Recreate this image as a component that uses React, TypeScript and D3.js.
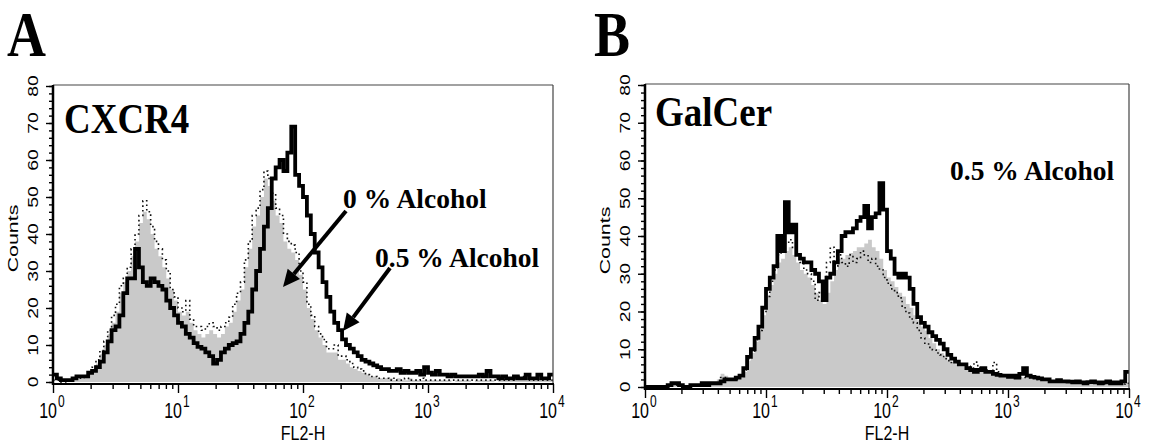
import React, { useEffect, useRef } from "react";
import * as d3 from "d3";

// histogram channels: 32 log bins per decade, 10^0 .. 10^4
const binsPerDecade = 32;
const decades = [0, 1, 2, 3, 4];
const countTicks = [0, 10, 20, 30, 40, 50, 60, 70, 80];

// CXCR4, 0 % alcohol (grey filled)
const cxcr4Fill = [
  0, 0, 0, 0, 0, 0.5, 1, 1, 1.5, 2.5,
  3.5, 5, 7.5, 10, 13, 16, 19, 24, 27, 30,
  34, 38, 43, 46, 44, 40, 36, 34, 31, 28,
  25, 22, 19, 18, 19, 16, 14, 13, 12, 13,
  14, 13, 12, 13, 15, 16, 19, 22, 25, 31,
  36, 42, 45, 50, 55, 53, 49, 45, 43, 38,
  36, 35, 33, 29, 25, 20, 17, 14, 12, 10,
  8, 8, 8, 6, 6, 5, 4, 3.5, 3, 2.5,
  2, 1.5, 1.5, 1, 1, 1, 1, 0.5, 1, 0.5,
  0.5, 1, 0.5, 0.5, 0.5, 0.5, 0.5, 0.5, 0.5, 0.5,
  0.5, 0.5, 0, 0.5, 0.5, 0.5, 0.5, 0, 0.5, 0.5,
  0.5, 0.5, 0.5, 0, 0.5, 0.5, 0.5, 0.5, 0.5, 1,
  1, 0.5, 0.5, 0.5, 0.5, 0.5, 0.5, 0.5
];

// CXCR4, dotted overlay
const cxcr4Dotted = [
  0.5, 0.5, 0, 0, 0.5, 0.5, 1, 1, 1.5, 3,
  4, 6, 8.5, 11, 14, 18, 21, 26, 28, 31,
  36, 40, 45, 49, 46, 42, 38, 36, 33, 30,
  25, 23, 20, 19, 22, 17, 15, 15, 14, 15,
  16, 15, 14, 15, 16, 17.5, 21, 24, 27, 33,
  38, 45, 47, 52, 57, 55, 51, 47, 45, 40,
  38, 37, 35, 30, 27, 21, 18, 15, 13, 11.5,
  9, 9, 10, 7, 7, 6, 5, 4, 3.5, 3,
  2, 1.5, 1.5, 1, 1, 1, 0.5, 1, 0.5, 0.5,
  1, 0.5, 0.5, 0.5, 1, 0.5, 0.5, 0.5, 0.5, 0.5,
  0.5, 0.5, 0.5, 0.5, 0.5, 0.5, 0.5, 0.5, 0.5, 0.5,
  0.5, 0.5, 0.5, 0.5, 0.5, 0.5, 0.5, 0.5, 1, 1.5,
  1.5, 1, 0.5, 0.5, 0.5, 0.5, 0.5, 0.5
];

// CXCR4, 0.5 % alcohol (thick black)
const cxcr4Alcohol = [
  2, 1, 0.5, 0.5, 0.5, 1, 1.5, 1.5, 1.5, 2.5,
  3, 4, 5.5, 8, 11, 14, 15, 18, 24, 28,
  28, 36, 31, 27, 26, 28, 27, 26, 25, 22,
  20, 18, 16, 15, 13, 12, 10.5, 9.5, 9, 8,
  7, 5, 6, 8, 9, 10, 10.5, 11, 13, 16,
  19, 25, 30, 36, 42, 47, 55, 58, 60, 57,
  62, 69, 56, 53, 50, 45, 40, 35, 31, 27,
  23, 19, 16, 14, 11.5, 10, 9, 8, 7, 6,
  5.5, 5, 4.5, 4, 3.5, 3.5, 3, 3, 3.5, 2.5,
  3, 2.5, 2.5, 3, 2, 4, 2.5, 2, 3, 2,
  2, 1.5, 2, 1.5, 1.5, 1.5, 1.5, 1.5, 1.5, 2,
  1.5, 3, 1.5, 1.5, 1, 1.5, 1, 1, 1.5, 1,
  1, 2, 1, 1, 2, 1, 1, 2
];

// GalCer, grey filled
const galcerFill = [
  0, 0, 0, 0, 0, 0, 0.5, 1, 0.5, 0.5,
  0, 0.3, 0.5, 0.5, 0.5, 0.8, 0.8, 1, 1, 2,
  3.5, 3, 2, 2, 2, 2.5, 4, 7, 9, 12,
  15, 19, 24, 27, 30, 33, 34, 36, 37, 35,
  33, 31, 30, 29, 27, 25, 23, 22, 25, 28,
  31, 34, 34, 35, 35.5, 36, 37, 37, 38, 39,
  37, 36, 34, 31, 29, 28, 26.5, 25, 24, 22,
  21, 19, 17.7, 16, 15, 13, 11.6, 10, 9, 8,
  7, 6.5, 6, 5.5, 5.5, 5, 5, 4.5, 4.5, 4.5,
  4.5, 4, 3.5, 3.5, 3.5, 3, 3, 3, 3, 2.5,
  2.5, 2.5, 2.5, 2, 2, 2, 1.8, 1.5, 1.5, 1.5,
  1.5, 1.2, 1.2, 1.2, 1, 1, 1.2, 1, 1, 1,
  1, 0.8, 1, 0.8, 1, 1, 0.8, 1
];

// GalCer, dotted overlay
const galcerDotted = [
  0, 0, 0, 0, 0, 0, 0.5, 1, 0.5, 0.5,
  0, 0.3, 0.5, 0.5, 0.5, 0.8, 0.8, 1, 1, 1.5,
  2.5, 2.5, 2, 2, 2, 3, 4.5, 7.5, 9.5, 12.5,
  15, 20, 24, 28, 31, 35, 36, 38, 39, 37,
  35, 33, 31, 30, 28, 23, 25, 27, 33, 37,
  32, 35, 33, 32, 35, 33, 34, 36, 35, 33,
  34, 32, 31, 29, 27.5, 26, 25, 23.6, 21, 19.6,
  18, 17, 15, 13, 11.6, 10.5, 9.8, 9, 8.5, 7.5,
  7, 6.5, 6.5, 6, 5.5, 5.5, 5, 6.6, 5, 4.5,
  4.5, 4, 6.5, 4, 3.5, 3, 3, 3, 2.8, 2.5,
  2.5, 2.5, 2.3, 2, 2, 2, 1.8, 1.5, 1.5, 1.5,
  1.5, 1.2, 1.2, 1.2, 1, 1, 1.2, 1, 1, 1,
  1, 0.8, 1, 0.8, 1, 1, 0.8, 1
];

// GalCer, 0.5 % alcohol (thick black)
const galcerAlcohol = [
  0, 0, 0, 0, 0, 0, 0.5, 1, 1, 0.5,
  0, 0, 0.5, 0.5, 0.5, 1, 0.5, 1, 1, 1,
  1.5, 2, 2, 2, 2.5, 3, 5, 8, 10, 13,
  16, 21, 26, 29, 32, 40, 36, 49, 41, 43,
  35, 34, 33, 33, 31, 30, 28, 23, 29, 30,
  33, 36, 40, 41, 41, 42, 44, 45, 48, 42,
  45, 46, 54, 47, 36, 34, 30, 29, 30, 29,
  26, 22, 18.5, 17, 16, 14.5, 13.5, 12.5, 11.5, 10,
  8.5, 7.5, 6.7, 6, 6, 5, 4.5, 4, 4.5, 5,
  4, 4, 3.5, 3.2, 3, 3, 2.7, 3, 2.5, 3.5,
  5, 3, 2.7, 2.5, 2.3, 2, 2, 1.5, 1.5, 1.8,
  1.5, 1.5, 1.4, 1.2, 1.5, 1.2, 1, 1.3, 1.5, 1.2,
  1, 1.2, 1.5, 1, 1.2, 1, 1.5, 4
];

const panels = [
  {
    letter: "A", letterX: 7,
    left: 53, right: 553, top: 85, zeroY: 382, axisY: 384,
    title: "CXCR4", titleX: 64, titleY: 133,
    fill: cxcr4Fill, dotted: cxcr4Dotted, line: cxcr4Alcohol,
    labels: [
      { text: "0 % Alcohol", x: 343, y: 208 },
      { text: "0.5 % Alcohol", x: 375, y: 267 }
    ],
    arrows: [
      { x1: 346, y1: 211, x2: 283, y2: 287 },
      { x1: 390, y1: 268, x2: 343, y2: 331 }
    ]
  },
  {
    letter: "B", letterX: 594,
    left: 645, right: 1129, top: 84, zeroY: 387, axisY: 389,
    title: "GalCer", titleX: 655, titleY: 126,
    fill: galcerFill, dotted: galcerDotted, line: galcerAlcohol,
    labels: [{ text: "0.5 % Alcohol", x: 950, y: 180 }],
    arrows: []
  }
];

const sans = "'Liberation Sans', Arial, sans-serif";
const serif = "'Liberation Serif', 'Times New Roman', serif";
const stretch = 1.38;

function drawPanel(svg, p, idx) {
  const g = svg.append("g");
  const x = d3.scaleLog().domain([1, 1e4]).range([p.left, p.right]);
  const y = d3.scaleLinear().domain([0, 80]).range([p.zeroY, p.top + 1]);
  const n = p.fill.length;
  const edges = d3.range(n + 1).map(i => Math.pow(10, i / binsPerDecade));
  const steps = vals => vals.map((v, i) => [edges[i], v]).concat([[edges[n], vals[n - 1]]]);

  const clipId = "clip" + idx;
  g.append("clipPath").attr("id", clipId)
    .append("rect")
    .attr("x", p.left).attr("y", p.top)
    .attr("width", p.right - p.left).attr("height", p.axisY - p.top);

  const plot = g.append("g").attr("clip-path", "url(#" + clipId + ")");

  const area = d3.area()
    .x(d => x(d[0]))
    .y0(y(0))
    .y1(d => y(d[1]))
    .curve(d3.curveStepAfter);
  const line = d3.line()
    .x(d => x(d[0]))
    .y(d => y(d[1]))
    .curve(d3.curveStepAfter);

  plot.append("path").datum(steps(p.fill))
    .attr("d", area).attr("fill", "#c9c9c9");
  plot.append("path").datum(steps(p.dotted))
    .attr("d", line).attr("fill", "none")
    .attr("stroke", "#111").attr("stroke-width", 1.6)
    .attr("stroke-dasharray", "1.6,3");
  plot.append("path").datum(steps(p.line))
    .attr("d", line).attr("fill", "none")
    .attr("stroke", "#000").attr("stroke-width", 3.8)
    .attr("stroke-linejoin", "miter");

  // frame
  g.append("line").attr("x1", p.left).attr("x2", p.right)
    .attr("y1", p.top).attr("y2", p.top)
    .attr("stroke", "#444").attr("stroke-width", 1.2);
  g.append("line").attr("x1", p.right).attr("x2", p.right)
    .attr("y1", p.top).attr("y2", p.axisY)
    .attr("stroke", "#444").attr("stroke-width", 1.2);
  g.append("line").attr("x1", p.left).attr("x2", p.left)
    .attr("y1", p.top).attr("y2", p.axisY + 1)
    .attr("stroke", "#000").attr("stroke-width", 2.5);
  g.append("line").attr("x1", p.left - 1).attr("x2", p.right + 1)
    .attr("y1", p.axisY).attr("y2", p.axisY)
    .attr("stroke", "#000").attr("stroke-width", 2.2);

  // y ticks
  const minorY = d3.range(0, 81, 2);
  const yMinor = g.append("g").attr("transform", "translate(" + p.left + ",0)")
    .call(d3.axisLeft(y).tickValues(minorY).tickSize(4).tickFormat(() => ""));
  const yMajor = g.append("g").attr("transform", "translate(" + p.left + ",0)")
    .call(d3.axisLeft(y).tickValues(countTicks).tickSize(7).tickFormat(() => ""));
  [yMinor, yMajor].forEach(a => {
    a.select(".domain").remove();
    a.selectAll("line").attr("stroke", "#000").attr("stroke-width", 1.4);
  });
  countTicks.forEach(t => {
    g.append("text")
      .attr("transform", "translate(" + (p.left - 15) + "," + y(t) + ") scale(1," + stretch + ") rotate(-90)")
      .attr("text-anchor", "middle")
      .attr("font-family", sans).attr("font-size", 14)
      .text(t);
  });
  g.append("text")
    .attr("transform", "translate(" + (p.left - 35) + "," + ((p.top + p.zeroY) / 2 + 5) + ") scale(1," + stretch + ") rotate(-90)")
    .attr("text-anchor", "middle")
    .attr("font-family", sans).attr("font-size", 15.5)
    .text("Counts");

  // x ticks
  const minorX = [];
  decades.slice(0, 4).forEach(d => {
    for (let k = 2; k <= 9; k++) minorX.push(k * Math.pow(10, d));
  });
  const xMinor = g.append("g").attr("transform", "translate(0," + p.axisY + ")")
    .call(d3.axisBottom(x).tickValues(minorX).tickSize(5).tickFormat(() => ""));
  const xMajor = g.append("g").attr("transform", "translate(0," + p.axisY + ")")
    .call(d3.axisBottom(x).tickValues(decades.map(d => Math.pow(10, d))).tickSize(9).tickFormat(() => ""));
  [xMinor, xMajor].forEach(a => {
    a.select(".domain").remove();
    a.selectAll("line").attr("stroke", "#000").attr("stroke-width", 1.4);
  });
  decades.forEach(d => {
    const xp = x(Math.pow(10, d));
    g.append("text")
      .attr("transform", "translate(" + (xp + 4) + ",418) scale(1," + stretch + ")")
      .attr("text-anchor", "end")
      .attr("font-family", sans).attr("font-size", 16)
      .text("10");
    g.append("text")
      .attr("transform", "translate(" + (xp + 5) + ",407) scale(1," + stretch + ")")
      .attr("font-family", sans).attr("font-size", 12)
      .text(d);
  });
  g.append("text")
    .attr("transform", "translate(" + x(100) + ",440) scale(1,1.3)")
    .attr("text-anchor", "middle")
    .attr("font-family", sans).attr("font-size", 16)
    .text("FL2-H");

  // panel letter and title
  g.append("text")
    .attr("transform", "translate(" + p.letterX + ",56) scale(1,1.18)")
    .attr("font-family", serif).attr("font-weight", "bold").attr("font-size", 54)
    .text(p.letter);
  g.append("text")
    .attr("transform", "translate(" + p.titleX + "," + p.titleY + ") scale(1,1.12)")
    .attr("font-family", serif).attr("font-weight", "bold").attr("font-size", 37)
    .text(p.title);
  p.labels.forEach(l => {
    g.append("text")
      .attr("x", l.x).attr("y", l.y)
      .attr("font-family", serif).attr("font-weight", "bold").attr("font-size", 27.5)
      .text(l.text);
  });
  p.arrows.forEach(a => {
    const ang = Math.atan2(a.y2 - a.y1, a.x2 - a.x1);
    const len = 17, half = 8;
    const bx = a.x2 - len * Math.cos(ang), by = a.y2 - len * Math.sin(ang);
    g.append("line")
      .attr("x1", a.x1).attr("y1", a.y1).attr("x2", bx).attr("y2", by)
      .attr("stroke", "#000").attr("stroke-width", 4);
    const pts = [
      [a.x2, a.y2],
      [bx + half * Math.sin(ang), by - half * Math.cos(ang)],
      [bx - half * Math.sin(ang), by + half * Math.cos(ang)]
    ];
    g.append("polygon").attr("points", pts.map(q => q.join(",")).join(" ")).attr("fill", "#000");
  });
}

export default function App() {
  const ref = useRef(null);
  useEffect(() => {
    const svg = d3.select(ref.current);
    svg.selectAll("*").remove();
    panels.forEach((p, i) => drawPanel(svg, p, i));
  }, []);
  return (
    <svg
      ref={ref}
      width={1152}
      height={443}
      style={{ position: "absolute", left: 0, top: 0, background: "#fff" }}
    />
  );
}
